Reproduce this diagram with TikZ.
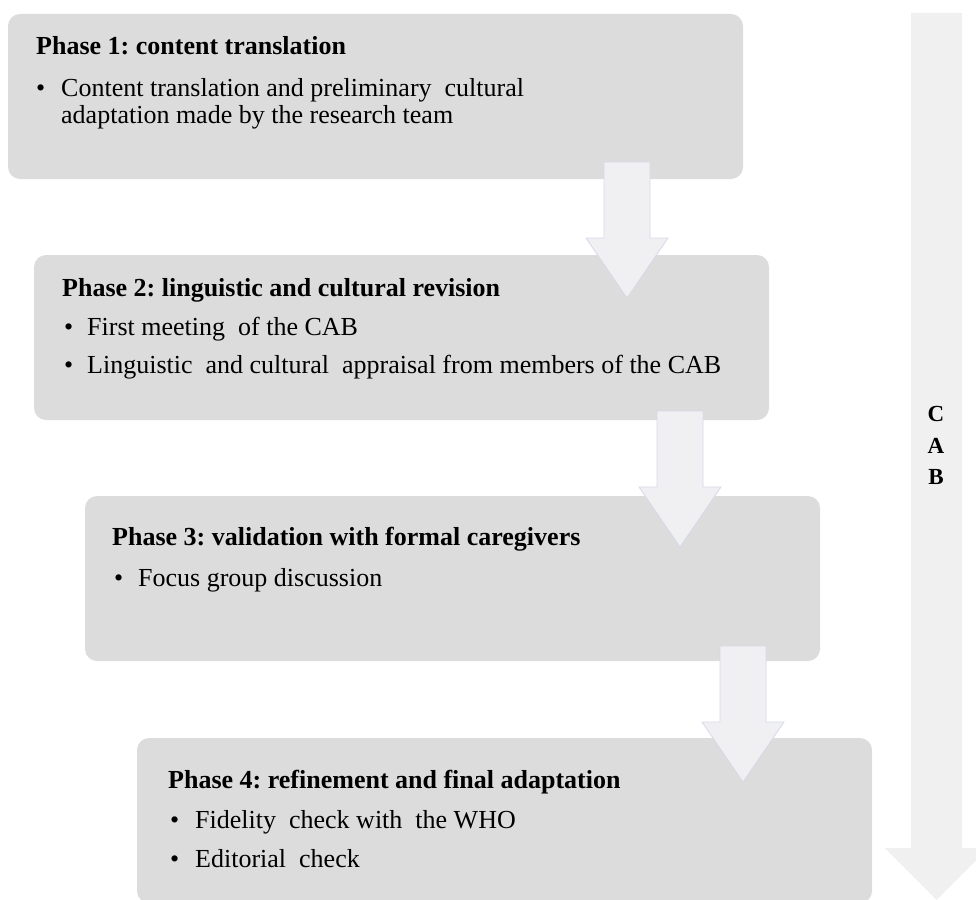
\documentclass[tikz,border=0pt]{standalone}
\usepackage{fontspec}
\setmainfont{Liberation Serif}
\frenchspacing
\definecolor{boxgray}{RGB}{220,220,220}
\definecolor{arrowfill}{RGB}{240,240,243}
\definecolor{arrowline}{RGB}{214,217,232}
\definecolor{bigfill}{RGB}{240,240,240}
\begin{document}
\begin{tikzpicture}[x=1pt,y=-1pt,
  phasebox/.style={fill=boxgray, rounded corners=12pt, minimum width=735pt,
    minimum height=165pt, anchor=north west, inner sep=0pt, outer sep=0pt},
  titletext/.style={anchor=base west, inner sep=0pt,
    font=\fontsize{26}{28}\selectfont\bfseries},
  itemtext/.style={anchor=base west, inner sep=0pt,
    font=\fontsize{26}{28}\selectfont},
  cabtext/.style={anchor=base, inner sep=0pt,
    font=\fontsize{23}{25}\selectfont\bfseries},
  blockarrow/.pic={
    \filldraw[fill=arrowfill, draw=arrowline, line width=0.8pt]
      (-23,0) -- (23,0) -- (23,76) -- (41,76) -- (0,136)
      -- (-41,76) -- (-23,76) -- cycle;
  }]
\useasboundingbox (0,0) rectangle (976,899);
\clip (0,0) rectangle (976,899);

% long CAB arrow
\fill[bigfill] (911,13) -- (962,13) -- (962,848) -- (988.5,848)
  -- (936.5,900) -- (884.5,848) -- (911,848) -- cycle;
\node[cabtext] (cabC) at (936,421) {C};
\node[cabtext] (cabA) at (936,453) {A};
\node[cabtext] (cabB) at (936,484) {B};

% phase boxes
\node[phasebox] (p1) at (8,14) {};
\node[phasebox] (p2) at (34,255) {};
\node[phasebox] (p3) at (85,496) {};
\node[phasebox] (p4) at (137,738) {};

% phase 1
\node[titletext] (t1) at (36,55) {Phase 1: content translation};
\node[itemtext] (b1a) at (36,96) {•};
\node[itemtext] (i1a) at (61,96) {Content translation and preliminary\ \ cultural};
\node[itemtext] (i1b) at (61,123) {adaptation made by the research team};

% phase 2
\node[titletext] (t2) at (62,296) {Phase 2: linguistic and cultural revision};
\node[itemtext] (b2a) at (64,335) {•};
\node[itemtext] (i2a) at (87,335) {First meeting\ \ of the CAB};
\node[itemtext] (b2b) at (64,373) {•};
\node[itemtext] (i2b) at (87,373) {Linguistic\ \ and cultural\ \ appraisal from members of the CAB};

% phase 3
\node[titletext] (t3) at (112,545) {Phase 3: validation with formal caregivers};
\node[itemtext] (b3a) at (114,586) {•};
\node[itemtext] (i3a) at (138,586) {Focus group discussion};

% phase 4
\node[titletext] (t4) at (168,788) {Phase 4: refinement and final adaptation};
\node[itemtext] (b4a) at (170,828) {•};
\node[itemtext] (i4a) at (195,828) {Fidelity\ \ check with\ \ the WHO};
\node[itemtext] (b4b) at (170,867) {•};
\node[itemtext] (i4b) at (195,867) {Editorial\ \ check};

% block arrows between phases
\pic (a1) at (627,162) {blockarrow};
\pic (a2) at (680,411) {blockarrow};
\pic (a3) at (743,646) {blockarrow};
\end{tikzpicture}
\end{document}
